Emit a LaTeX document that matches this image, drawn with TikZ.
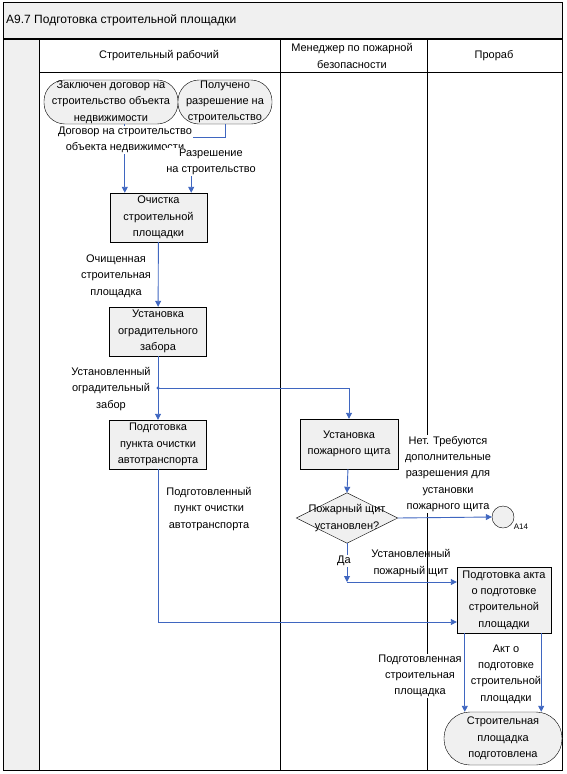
\documentclass[tikz,border=0pt]{standalone}
\usepackage{fontspec}
\setmainfont{Liberation Sans}
\usetikzlibrary{arrows.meta,calc}
\definecolor{flow}{HTML}{3F66C0}
\definecolor{fillg}{HTML}{F0F0F0}
\begin{document}
\begin{tikzpicture}[x=1pt,y=-1pt,
  font=\fontsize{11}{16.3}\selectfont,
  func/.style={draw=black, fill=fillg, align=center, inner sep=0pt, minimum width=97pt, minimum height=49pt},
  evshape/.style={draw=black, fill=fillg, inner sep=0pt},
  txt/.style={align=center, inner sep=0pt},
  flowline/.style={draw=flow, line width=0.9pt},
  arr/.style={flowline, -{Triangle[length=6pt,width=6pt]}},
  lbl/.style={align=center, inner sep=1pt},
  lblw/.style={lbl, fill=white},
  laneline/.style={draw=black, line width=0.9pt}
]
\useasboundingbox (0,0) rectangle (566,774);
% frame and headers
\fill[fillg] (3,2) rectangle (562,39);
\fill[fillg] (3,39) rectangle (39,770);
\draw[laneline] (3,2) rectangle (562,770);
\draw[draw=black, line width=1.6pt] (3,39) -- (562,39);
\draw[laneline] (39,39) -- (39,770);
\draw[laneline] (39,72) -- (562,72);
\draw[laneline] (280,39) -- (280,770);
\draw[laneline] (427,39) -- (427,770);
\node[anchor=west, inner sep=0pt, font=\fontsize{12}{14}\selectfont] (title) at (6,20) {A9.7 Подготовка строительной площадки};
\node[txt] (h1) at (159,56) {Строительный рабочий};
\node[txt] (h2) at (352,56) {Менеджер по пожарной\\безопасности};
\node[txt] (h3) at (494,56) {Прораб};

% start events
\node[evshape, rounded corners=21pt, minimum width=134pt, minimum height=44pt] (s1) at (111,102) {};
\node[txt] (s1t) at (s1.center) {Заключен договор на\\строительство объекта\\недвижимости};
\node[evshape, rounded corners=21pt, minimum width=94pt, minimum height=44pt] (s2) at (225,102) {};
\node[txt] (s2t) at (s2.center) {Получено\\разрешение на\\строительство};

% functions
\node[func] (b1) at (158.5,217.5) {Очистка\\строительной\\площадки};
\node[func] (b2) at (158,331.5) {Установка\\оградительного\\забора};
\node[func] (b3) at (158,444.5) {Подготовка\\пункта очистки\\автотранспорта};
\node[func, minimum width=98pt, minimum height=50pt] (b4) at (349,444) {Установка\\пожарного щита};
\node[func, minimum width=94pt, minimum height=66pt] (b5) at (504,600) {Подготовка акта\\о подготовке\\строительной\\площадки};

% decision
\node[inner sep=0pt, minimum width=101pt, minimum height=50pt] (d) at (347,518) {};
\draw[draw=black, fill=fillg] (d.north) -- (d.east) -- (d.south) -- (d.west) -- cycle;
\node[txt] (dt) at (d.center) {Пожарный щит\\установлен?};

% connector A14
\node[evshape, circle, minimum size=22pt] (a14) at (503,517) {};
\node[inner sep=0pt, font=\fontsize{8}{9}\selectfont] (a14t) at (521,527) {A14};

% end event
\node[evshape, rounded corners=26pt, minimum width=118pt, minimum height=53pt] (e) at (503,738.5) {};
\node[txt] (et) at (e.center) {Строительная\\площадка\\подготовлена};

% connectors
\draw[arr] ([xshift=15pt]b1.north west |- s1.south) -- ([xshift=15pt]b1.north west);
\draw[arr] (s2.south) -- ++(0,13) -| ([xshift=-16pt]b1.north east);
\draw[arr] (b1) -- (b2);
\draw[arr] (b2) -- (b3);
\coordinate (j1) at (158,388);
\draw[arr] (j1) -| (b4.north);
\fill[flow] (j1) circle (1.6pt);
\draw[arr] (b4) -- (d.north);
\draw[arr] (d.east) -- (a14.west);
\coordinate (j2) at ($(d.south |- b5.west)+(0,-18)$);
\draw[arr] (d.south) -- (j2);
\draw[arr] (j2) -- (j2 -| b5.west);
\draw[arr] (b3.south) |- ([yshift=-22pt]b5.west);
\draw[arr] ([xshift=8pt]b5.south west) -- ([xshift=8pt]b5.south west |- e.north);
\draw[arr] ([xshift=-10pt]b5.south east) -- ([xshift=-10pt]b5.south east |- e.north);

% labels
\node[lblw] (l1) at (125,140) {Договор на строительство\\объекта недвижимости};
\node[lblw] (l2) at (211,162) {Разрешение\\на строительство};
\node[lbl] (l3) at (116,276) {Очищенная\\строительная\\площадка};
\node[lbl] (l4) at (111,389) {Установленный\\оградительный\\забор};
\node[lblw] (l5) at (448,474) {Нет. Требуются\\дополнительные\\разрешения для\\установки\\пожарного щита};
\node[lblw] (l6) at (344,561) {Да};
\node[lbl] (l7) at (411,563) {Установленный\\пожарный щит};
\node[lbl] (l8) at (209,509) {Подготовленный\\пункт очистки\\автотранспорта};
\node[lblw] (l9) at (420,676) {Подготовленная\\строительная\\площадка};
\node[lbl] (l10) at (506,674) {Акт о\\подготовке\\строительной\\площадки};
\end{tikzpicture}
\end{document}
